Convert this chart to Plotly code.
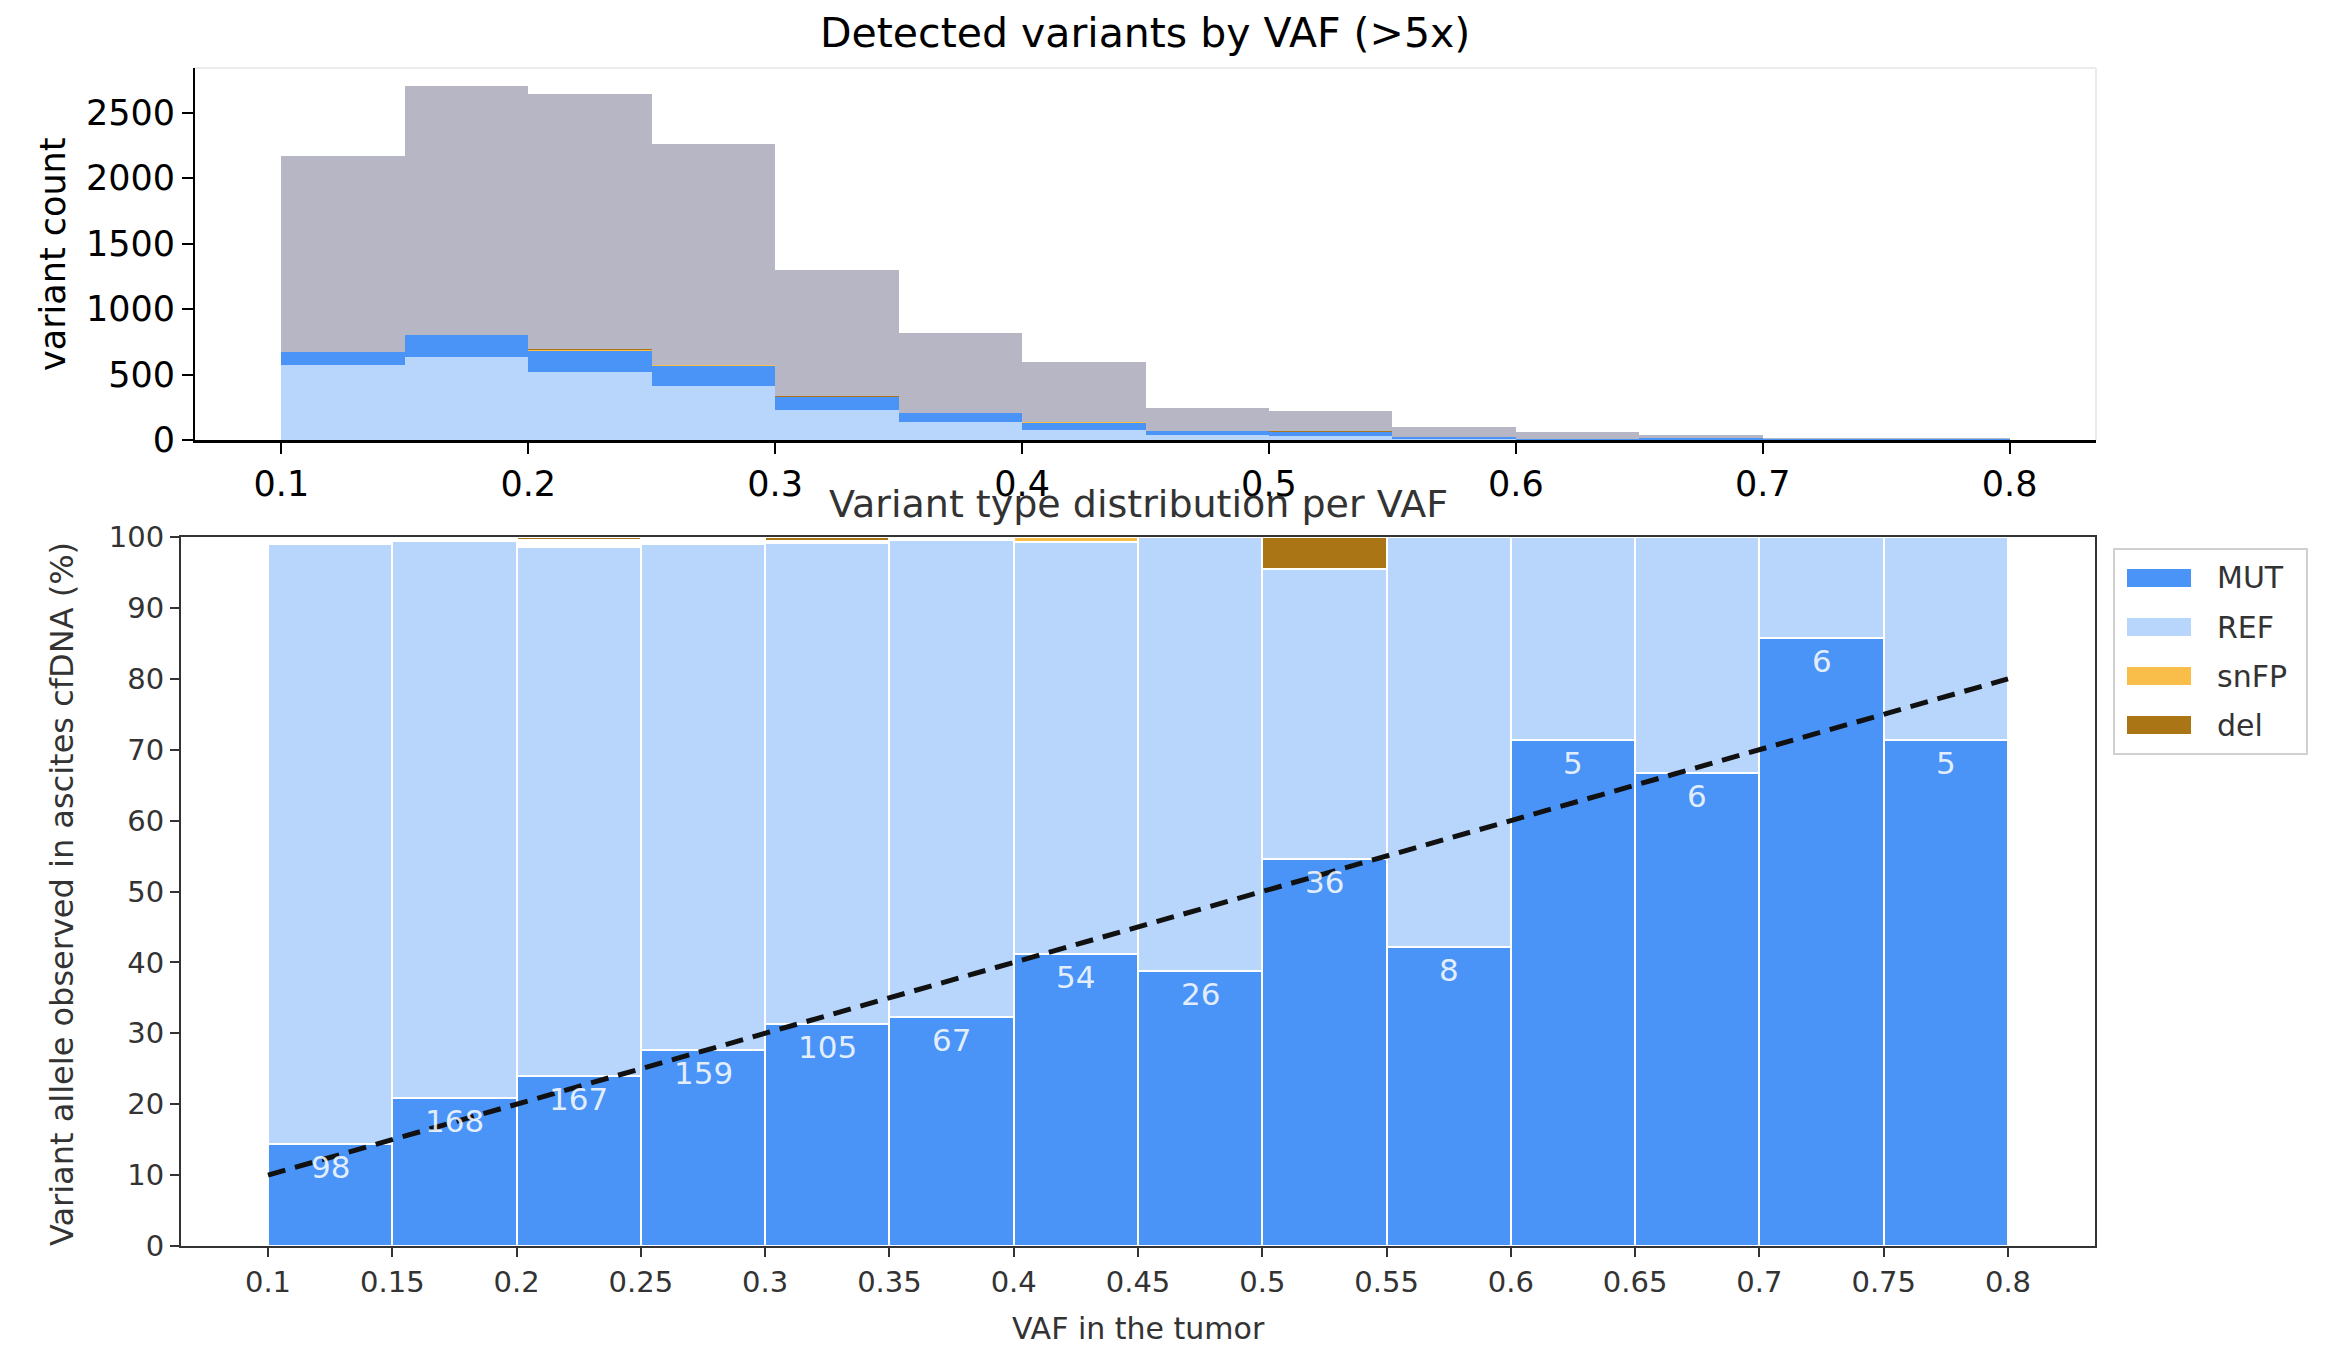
import plotly.graph_objects as go

# Lower edge of each tumour-VAF bin
vaf_bin_start = [0.10, 0.15, 0.20, 0.25, 0.30, 0.35, 0.40, 0.45, 0.50, 0.55, 0.60, 0.65, 0.70, 0.75]
bin_width = 0.05

# All variants detected in the tumour (>5x), per bin
detected_total = [2172, 2707, 2643, 2265, 1296, 818, 596, 245, 222, 96, 58, 35, 10, 9]

# Variants covered in ascites cfDNA, split by observed allele type
mut_count = [98, 168, 167, 159, 105, 67, 54, 26, 36, 8, 5, 6, 6, 5]
ref_count = [575, 632, 519, 409, 227, 139, 76, 41, 27, 11, 2, 3, 1, 2]
snfp_count = [0, 0, 2, 1, 0, 0, 1, 0, 0, 0, 0, 0, 0, 0]
del_count = [0, 0, 3, 0, 2, 0, 0, 0, 3, 0, 0, 0, 0, 0]
other_count = [7, 4, 5, 5, 1, 1, 0, 0, 0, 0, 0, 0, 0, 0]

# Expected relation: observed fraction equals tumour VAF
expected_vaf = [0.1, 0.8]
expected_pct = [10, 80]

top_ticks = [0.1, 0.2, 0.3, 0.4, 0.5, 0.6, 0.7, 0.8]
top_tick_text = ["0.1", "0.2", "0.3", "0.4", "0.5", "0.6", "0.7", "0.8"]
bottom_ticks = [0.1, 0.15, 0.2, 0.25, 0.3, 0.35, 0.4, 0.45, 0.5, 0.55, 0.6, 0.65, 0.7, 0.75, 0.8]
bottom_tick_text = ["0.1", "0.15", "0.2", "0.25", "0.3", "0.35", "0.4", "0.45",
                    "0.5", "0.55", "0.6", "0.65", "0.7", "0.75", "0.8"]
count_ticks = [0, 500, 1000, 1500, 2000, 2500]
pct_ticks = [0, 10, 20, 30, 40, 50, 60, 70, 80, 90, 100]

C_MUT = "#4a94f7"
C_REF = "#b8d5fc"
C_SNFP = "#f9bd4a"
C_DEL = "#aa7515"
C_GREY = "#b6b6c4"
FONT = "DejaVu Sans"
DARK = "#333333"
W, H = 2326, 1349

n = len(vaf_bin_start)
covered = [mut_count[i] + ref_count[i] + snfp_count[i] + del_count[i] + other_count[i] for i in range(n)]

fig = go.Figure()

# ---- top panel: counts per bin ----
fig.add_trace(go.Bar(x=vaf_bin_start, y=detected_total, base=[0] * n, offset=0, width=bin_width,
                     marker=dict(color=C_GREY, line=dict(width=0)), xaxis="x", yaxis="y",
                     showlegend=False))
base = [0] * n
for vals, col in [(ref_count, C_REF), (mut_count, C_MUT), (snfp_count, C_SNFP), (del_count, C_DEL)]:
    fig.add_trace(go.Bar(x=vaf_bin_start, y=vals, base=list(base), offset=0, width=bin_width,
                         marker=dict(color=col, line=dict(width=0)), xaxis="x", yaxis="y",
                         showlegend=False))
    base = [base[i] + vals[i] for i in range(n)]

# ---- bottom panel: percentage per bin ----
def pct(vals):
    return [100.0 * vals[i] / covered[i] for i in range(n)]

mut_pct = pct(mut_count)
ref_pct = pct(ref_count)
other_pct = pct(other_count)
snfp_pct = pct(snfp_count)
del_pct = pct(del_count)

base = [0.0] * n
for vals, col in [(mut_pct, C_MUT), (ref_pct, C_REF), (other_pct, None),
                  (snfp_pct, C_SNFP), (del_pct, C_DEL)]:
    if col is not None:
        fig.add_trace(go.Bar(x=vaf_bin_start, y=vals, base=list(base), offset=0, width=bin_width,
                             marker=dict(color=col, line=dict(color="white", width=2)),
                             xaxis="x2", yaxis="y2", showlegend=False))
    base = [base[i] + vals[i] for i in range(n)]

fig.add_trace(go.Scatter(x=expected_vaf, y=expected_pct, mode="lines",
                         line=dict(color="#111111", width=5, dash="18px,10px"),
                         xaxis="x2", yaxis="y2", showlegend=False))

annotations = []
for i in range(n):
    annotations.append(dict(x=vaf_bin_start[i] + bin_width / 2, y=mut_pct[i], xref="x2", yref="y2",
                            text=str(mut_count[i]), showarrow=False, yanchor="middle", yshift=-23,
                            font=dict(family=FONT, size=31, color="rgba(255,255,255,0.85)")))


def px(x):
    return x / W


def py(y):
    return 1 - y / H


annotations += [
    dict(text="Detected variants by VAF (>5x)", x=px(1145), y=py(33), xref="paper", yref="paper",
         showarrow=False, xanchor="center", yanchor="middle", font=dict(family=FONT, size=41, color="black")),
    dict(text="variant count", x=px(53), y=py(254), xref="paper", yref="paper", textangle=-90,
         showarrow=False, xanchor="center", yanchor="middle", font=dict(family=FONT, size=35, color="black")),
    dict(text="Variant type distribution per VAF", x=px(1138), y=py(504), xref="paper",
         yref="paper", showarrow=False, xanchor="center", yanchor="middle",
         font=dict(family=FONT, size=38, color=DARK)),
    dict(text="VAF in the tumor", x=px(1138), y=py(1328), xref="paper", yref="paper",
         showarrow=False, xanchor="center", yanchor="middle", font=dict(family=FONT, size=30, color=DARK)),
    dict(text="Variant allele observed in ascites cfDNA (%)", x=px(62), y=py(894),
         xref="paper", yref="paper", textangle=-90, showarrow=False, xanchor="center", yanchor="middle",
         font=dict(family=FONT, size=32, color=DARK)),
]

shapes = [
    # faint top and right frame of the upper panel
    dict(type="line", xref="x domain", yref="y domain", x0=0, x1=1, y0=1, y1=1,
         line=dict(color="#ebebeb", width=2)),
    dict(type="line", xref="x domain", yref="y domain", x0=1, x1=1, y0=0, y1=1,
         line=dict(color="#ebebeb", width=2)),
    # legend frame
    dict(type="rect", xref="paper", yref="paper", x0=px(2114), x1=px(2307),
         y0=py(754), y1=py(549), line=dict(color="#d0d0d0", width=2), fillcolor="white"),
]

legend_items = [("MUT", C_MUT), ("REF", C_REF), ("snFP", C_SNFP), ("del", C_DEL)]
legend_y = [578, 627, 676, 725]
for (name, col), yc in zip(legend_items, legend_y):
    shapes.append(dict(type="rect", xref="paper", yref="paper", x0=px(2127), x1=px(2191),
                       y0=py(yc + 9), y1=py(yc - 9), line=dict(width=0), fillcolor=col))
    annotations.append(dict(text=name, x=px(2215), y=py(yc), xref="paper", yref="paper",
                            showarrow=False, xanchor="left", yanchor="middle",
                            font=dict(family=FONT, size=30, color=DARK)))

fig.update_layout(
    width=W, height=H,
    margin=dict(l=0, r=0, t=0, b=0, pad=0, autoexpand=False),
    paper_bgcolor="white", plot_bgcolor="white",
    barmode="overlay", bargap=0,
    showlegend=False,
    font=dict(family=FONT),
    annotations=annotations,
    shapes=shapes,
    xaxis=dict(domain=[px(195), px(2096)], range=[0.065, 0.835], anchor="y", automargin=False,
               tickmode="array", tickvals=top_ticks, ticktext=top_tick_text,
               ticks="outside", ticklen=11, tickwidth=2, tickcolor="black",
               showline=True, linecolor="black", linewidth=3, showgrid=False, zeroline=False,
               tickfont=dict(family=FONT, size=35, color="black")),
    yaxis=dict(domain=[py(440), py(68)], range=[0, 2842], anchor="x", automargin=False,
               tickmode="array", tickvals=count_ticks, ticks="outside", ticklen=11, tickwidth=2,
               tickcolor="black", showline=True, linecolor="black", linewidth=2,
               showgrid=False, zeroline=False, tickfont=dict(family=FONT, size=35, color="black")),
    xaxis2=dict(domain=[px(181), px(2095)], range=[0.065, 0.835], anchor="y2", automargin=False,
                tickmode="array", tickvals=bottom_ticks, ticktext=bottom_tick_text,
                ticks="outside", ticklen=9, tickwidth=2, tickcolor=DARK,
                showline=True, mirror=True, linecolor=DARK, linewidth=2, showgrid=False, zeroline=False,
                tickfont=dict(family=FONT, size=29, color=DARK)),
    yaxis2=dict(domain=[py(1246), py(537)], range=[0, 100], anchor="x2", automargin=False,
                tickmode="array", tickvals=pct_ticks, ticks="outside", ticklen=9, tickwidth=2,
                tickcolor=DARK, showline=True, mirror=True, linecolor=DARK, linewidth=2,
                showgrid=False, zeroline=False, tickfont=dict(family=FONT, size=29, color=DARK)),
)

fig.write_html("out.html")
